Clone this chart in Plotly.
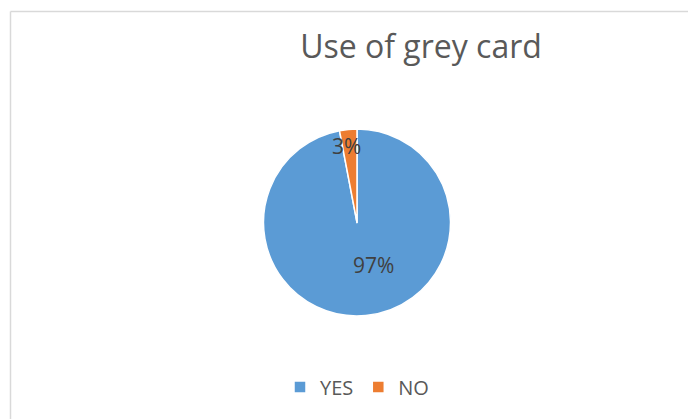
import plotly.graph_objects as go

labels = ["YES", "NO"]
values = [97, 3]
colors = ["#5B9BD5", "#ED7D31"]
title_text = "Use of grey card"

W, H = 696, 419
OFF = 8  # page body margin offset
cx, cy, r = 357 - OFF, 222.5 - OFF, 93.5

# data-label anchor points (pixel, in reference coordinates), Excel "best fit" style
label_pos = [(373.5, 265), (346, 145.5)]

total = sum(values)

fig = go.Figure()
fig.add_trace(go.Pie(
    labels=labels,
    values=values,
    sort=False,
    direction="clockwise",
    rotation=0,
    marker=dict(colors=colors, line=dict(color="white", width=1.5)),
    textinfo="none",
    domain=dict(x=[(cx - r) / W, (cx + r) / W], y=[1 - (cy + r) / H, 1 - (cy - r) / H]),
    hoverinfo="label+percent",
))

annotations = []
for v, (px, py) in zip(values, label_pos):
    annotations.append(dict(
        text=f"{v / total * 100:.0f}%",
        x=(px - OFF) / W, y=1 - (py - OFF) / H, xref="paper", yref="paper",
        xanchor="center", yanchor="middle", showarrow=False,
        font=dict(family="Open Sans", size=21, color="#404040"),
    ))

fig.update_layout(
    width=W, height=H,
    margin=dict(l=0, r=0, t=0, b=0),
    paper_bgcolor="white",
    plot_bgcolor="white",
    title=dict(text=title_text, x=(421 - OFF) / W, xanchor="center", y=1 - (47 - OFF) / H, yanchor="middle",
               font=dict(family="Open Sans", size=32, color="#595959")),
    annotations=annotations,
    showlegend=True,
    legend=dict(orientation="h", x=(357 - OFF) / W, xanchor="center", y=1 - (387 - OFF) / H, yanchor="middle",
                font=dict(family="Open Sans", size=20, color="#595959"),
                itemwidth=30, traceorder="normal"),
    shapes=[
        dict(type="line", xref="paper", yref="paper", x0=(10.5 - OFF) / W, x1=1.05,
             y0=1 - (11.5 - OFF) / H, y1=1 - (11.5 - OFF) / H,
             line=dict(color="#D9D9D9", width=1.5)),
        dict(type="line", xref="paper", yref="paper", x0=(10.5 - OFF) / W, x1=(10.5 - OFF) / W,
             y0=1 - (11.5 - OFF) / H, y1=-0.05,
             line=dict(color="#D9D9D9", width=1.5)),
    ],
)

fig.write_html("out.html")
